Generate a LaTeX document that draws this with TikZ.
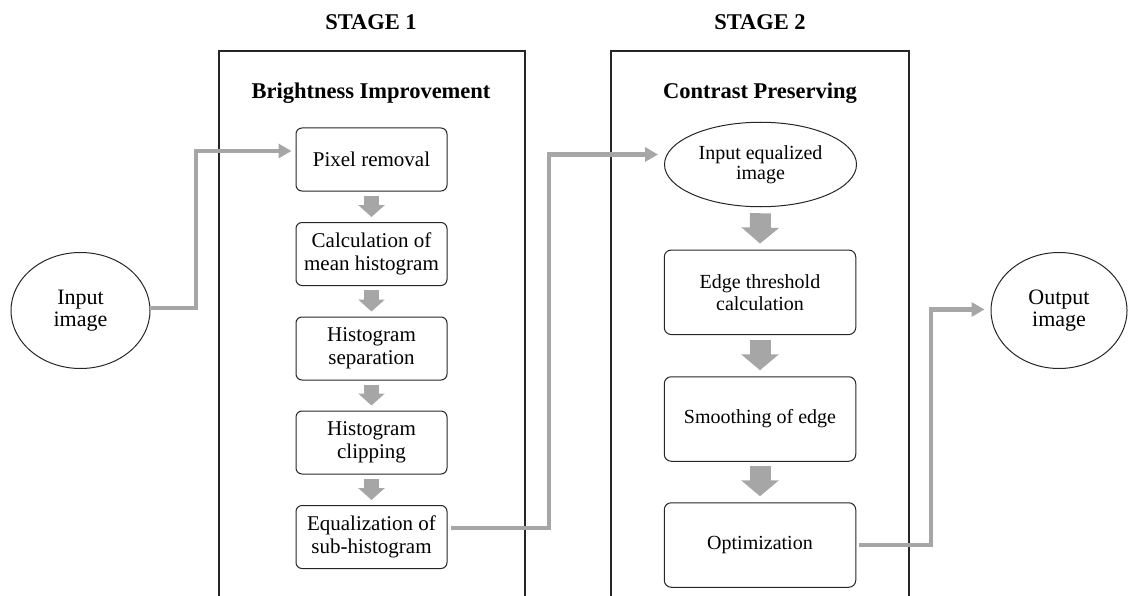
\documentclass[tikz,border=0pt]{standalone}
\usepackage{fontspec}
\setmainfont{Liberation Serif}
\usetikzlibrary{arrows.meta,shapes.geometric}
\definecolor{flowgray}{HTML}{A6A6A6}
\definecolor{edgeblack}{HTML}{262626}

\begin{document}
\begin{tikzpicture}[x=1pt,y=-1pt,
  stageframe/.style={draw=edgeblack, line width=1.1pt},
  stagetitle/.style={font=\fontsize{22.5}{25}\selectfont\bfseries},
  boxa/.style={draw=edgeblack, line width=1pt, rounded corners=6pt,
    minimum width=151pt, minimum height=63pt, inner sep=0pt, align=center,
    font=\fontsize{21}{22.5}\selectfont},
  boxb/.style={draw=edgeblack, line width=1pt, rounded corners=7pt,
    minimum width=191.5pt, minimum height=84.5pt, inner sep=0pt, align=center,
    font=\fontsize{20}{22}\selectfont},
  oval/.style={draw=edgeblack, line width=1pt, ellipse, inner sep=0pt, align=center},
  link/.style={draw=flowgray, line width=4.5pt,
    -{Triangle[length=13pt,width=14pt]}},
  blocka/.style={draw=flowgray, line width=15pt,
    -{Triangle[length=12pt,width=26pt]}},
  blockb/.style={draw=flowgray, line width=21pt,
    -{Triangle[length=16pt,width=37pt]}}
]
\useasboundingbox (0,0) rectangle (1131,596);

% stage frames (open at the bottom)
\draw[stageframe] (219,600) -- (219,51) -- (525,51) -- (525,600);
\draw[stageframe] (611,600) -- (611,51) -- (909,51) -- (909,600);

% titles and headings
\node[stagetitle] (t1) at (371,22) {STAGE 1};
\node[stagetitle] (t2) at (760,22) {STAGE 2};
\node[stagetitle] (h1) at (371,93) {Brightness Improvement};
\node[stagetitle] (h2) at (760,93) {Contrast Preserving};

% input / output
\node[oval, minimum width=139pt, minimum height=116pt,
  font=\fontsize{22}{22.5}\selectfont] (inp) at (80.5,310.5) {Input\\image};
\node[oval, minimum width=136pt, minimum height=116pt,
  font=\fontsize{22}{22.5}\selectfont] (out) at (1059,310.5) {Output\\image};

% stage 1 boxes
\node[boxa] (pix)  at (371.5,159.5) {Pixel removal};
\node[boxa] (mean) at (371.5,254)   {Calculation of\\mean histogram};
\node[boxa] (sep)  at (371.5,348.5) {Histogram\\separation};
\node[boxa] (clip) at (371.5,442.5) {Histogram\\clipping};
\node[boxa] (eq)   at (371.5,537)   {Equalization of\\sub-histogram};

% stage 2 boxes
\node[oval, minimum width=192pt, minimum height=84.5pt,
  font=\fontsize{20}{19.5}\selectfont] (ieq) at (760.5,164.5) {Input equalized\\image};
\node[boxb] (thr) at (760,292.3) {Edge threshold\\calculation};
\node[boxb] (smo) at (760,419)   {Smoothing of edge};
\node[boxb] (opt) at (760,545)   {Optimization};

% block arrows, stage 1
\draw[blocka] ([yshift=-4pt]pix.south)  -- ([yshift=5pt]mean.north);
\draw[blocka] ([yshift=-4pt]mean.south) -- ([yshift=5pt]sep.north);
\draw[blocka] ([yshift=-4pt]sep.south)  -- ([yshift=5pt]clip.north);
\draw[blocka] ([yshift=-4pt]clip.south) -- ([yshift=5pt]eq.north);

% block arrows, stage 2
\draw[blockb] ([yshift=-6pt]ieq.south) -- ([yshift=6pt]thr.north);
\draw[blockb] ([yshift=-4.5pt]thr.south) -- ([yshift=6pt]smo.north);
\draw[blockb] ([yshift=-4.5pt]smo.south) -- ([yshift=6pt]opt.north);

% elbow connectors
\coordinate (pixin) at ([xshift=-4pt,yshift=8.5pt]pix.west);
\coordinate (ieqin) at ([xshift=-6pt,yshift=10pt]ieq.west);
\coordinate (outin) at ([xshift=-6pt,yshift=1pt]out.west);
\coordinate (j1) at (196,0);
\coordinate (j2) at (549,0);
\coordinate (j3) at (931,0);

\draw[link] ([yshift=2.5pt]inp.east) -| (j1 |- pixin) -- (pixin);
\draw[link] ([xshift=3pt,yshift=9pt]eq.east) -| (j2 |- ieqin) -- (ieqin);
\draw[link] ([xshift=3pt]opt.east) -| (j3 |- outin) -- (outin);
\end{tikzpicture}
\end{document}
